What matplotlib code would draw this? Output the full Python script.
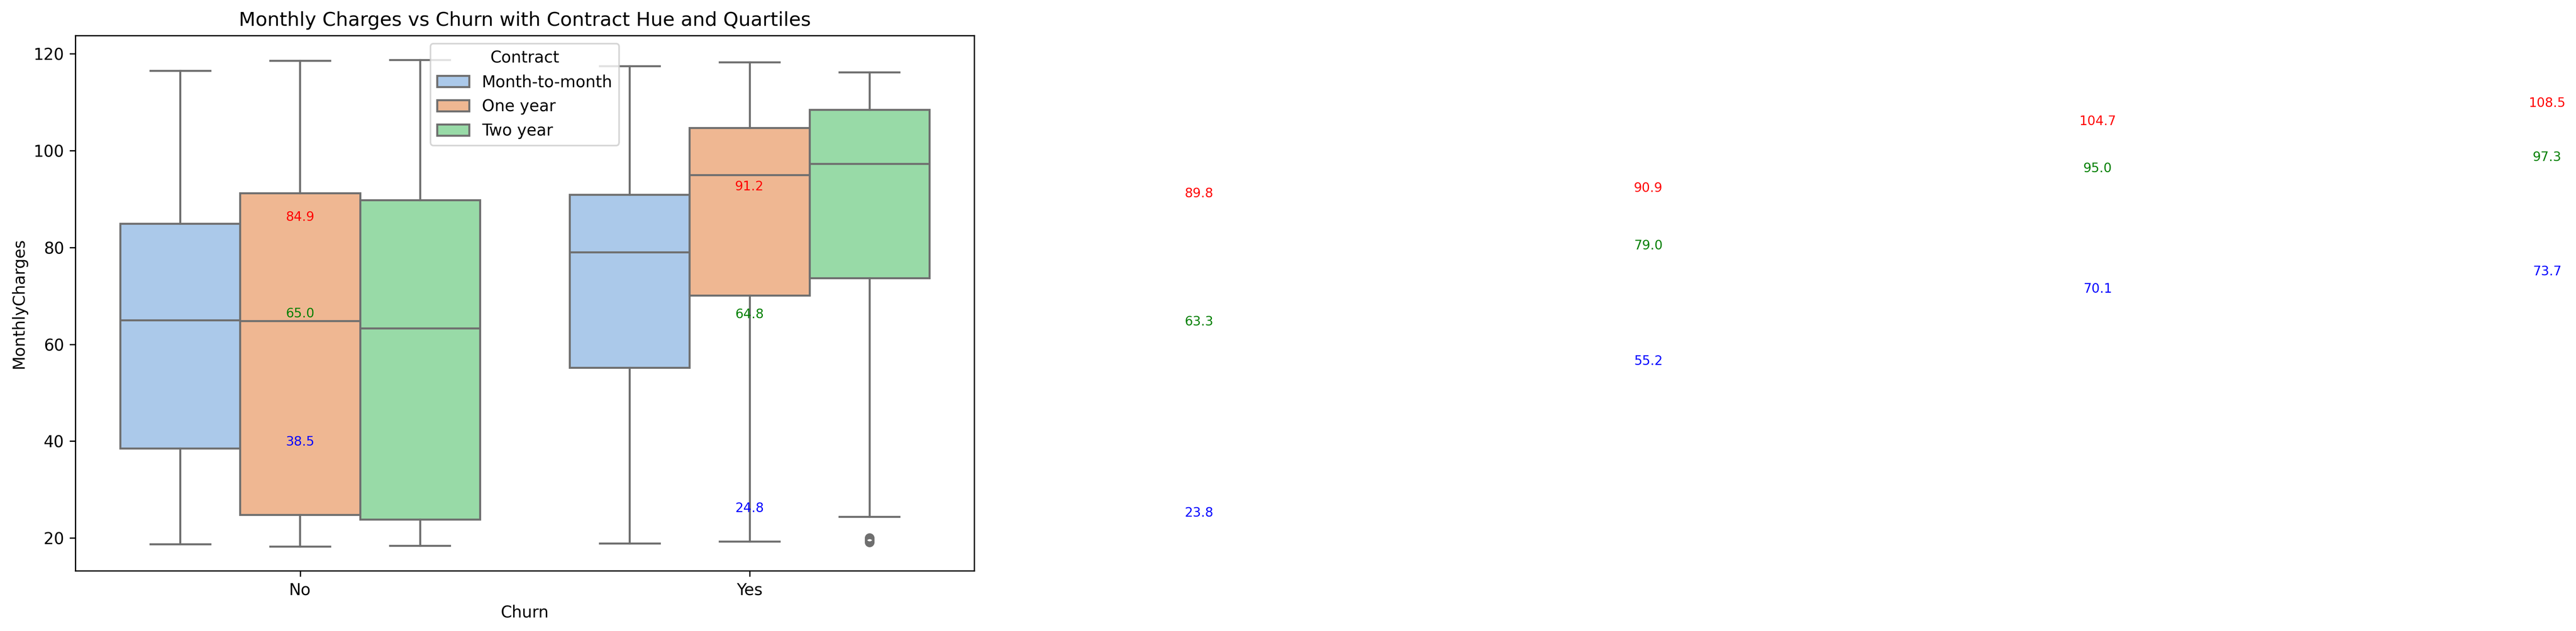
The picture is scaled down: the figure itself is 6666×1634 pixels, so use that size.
import matplotlib
matplotlib.use("Agg")
import matplotlib.pyplot as plt
from matplotlib.patches import Patch
import seaborn as sns

# ---- data ----
churn_levels = ["No", "Yes"]
contracts = ["Month-to-month", "One year", "Two year"]

# order: (churn, contract) -> No/MtM, No/One, No/Two, Yes/MtM, Yes/One, Yes/Two
q1_vals = [38.5, 24.8, 23.8, 55.2, 70.1, 73.7]
median_vals = [65.0, 64.8, 63.3, 79.0, 95.0, 97.3]
q3_vals = [84.9, 91.2, 89.8, 90.9, 104.7, 108.5]
whislo_vals = [18.7, 18.25, 18.4, 18.85, 19.3, 24.4]
whishi_vals = [116.5, 118.6, 118.75, 117.45, 118.3, 116.2]
flier_vals = [[], [], [], [], [], [19.1, 19.35, 19.6, 19.85, 20.0]]

title = "Monthly Charges vs Churn with Contract Hue and Quartiles"
xlabel = "Churn"
ylabel = "MonthlyCharges"

# ---- styling ----
pal = sns.color_palette("pastel", 3)
colors = [sns.desaturate(c, 0.75) for c in pal]
line_gray = (0.435, 0.435, 0.435)
lw = 1.25

W, H, DPI = 6666, 1634, 300
fig = plt.figure(figsize=(W / DPI, H / DPI), dpi=DPI)
ax = fig.add_axes([195 / W, (H - 1478) / H, 2326 / W, 1386 / H])

n_hue = len(contracts)
box_w = 0.8 / n_hue
offsets = [(-0.4 + box_w / 2) + k * box_w for k in range(n_hue)]

for ci, churn in enumerate(churn_levels):
    for hi, contract in enumerate(contracts):
        idx = ci * n_hue + hi
        stats = [dict(med=median_vals[idx], q1=q1_vals[idx], q3=q3_vals[idx],
                      whislo=whislo_vals[idx], whishi=whishi_vals[idx],
                      fliers=flier_vals[idx])]
        ax.bxp(stats, positions=[ci + offsets[hi]], widths=box_w,
               capwidths=box_w * 0.5, patch_artist=True, manage_ticks=False,
               boxprops=dict(facecolor=colors[hi], edgecolor=line_gray, linewidth=lw),
               medianprops=dict(color=line_gray, linewidth=lw),
               whiskerprops=dict(color=line_gray, linewidth=lw),
               capprops=dict(color=line_gray, linewidth=lw),
               flierprops=dict(marker="o", markeredgecolor=line_gray,
                               markerfacecolor="none", markersize=5, linewidth=0))

ax.set_xlim(-0.5, len(churn_levels) - 0.5)
ax.set_xticks(range(len(churn_levels)))
ax.set_xticklabels(churn_levels)
ax.set_xlabel(xlabel)
ax.set_ylabel(ylabel)
ax.set_title(title)

handles = [Patch(facecolor=colors[k], edgecolor=line_gray, linewidth=lw, label=contracts[k])
           for k in range(n_hue)]
ax.legend(handles=handles, title="Contract", loc="upper center")

# quartile annotations (placed at consecutive integer x positions)
for i in range(len(q1_vals)):
    ax.text(i, q3_vals[i], f"{q3_vals[i]:.1f}", ha="center", va="bottom", fontsize=8, color="red")
    ax.text(i, median_vals[i], f"{median_vals[i]:.1f}", ha="center", va="bottom", fontsize=8, color="green")
    ax.text(i, q1_vals[i], f"{q1_vals[i]:.1f}", ha="center", va="bottom", fontsize=8, color="blue")

fig.savefig("out.png", dpi=DPI)
